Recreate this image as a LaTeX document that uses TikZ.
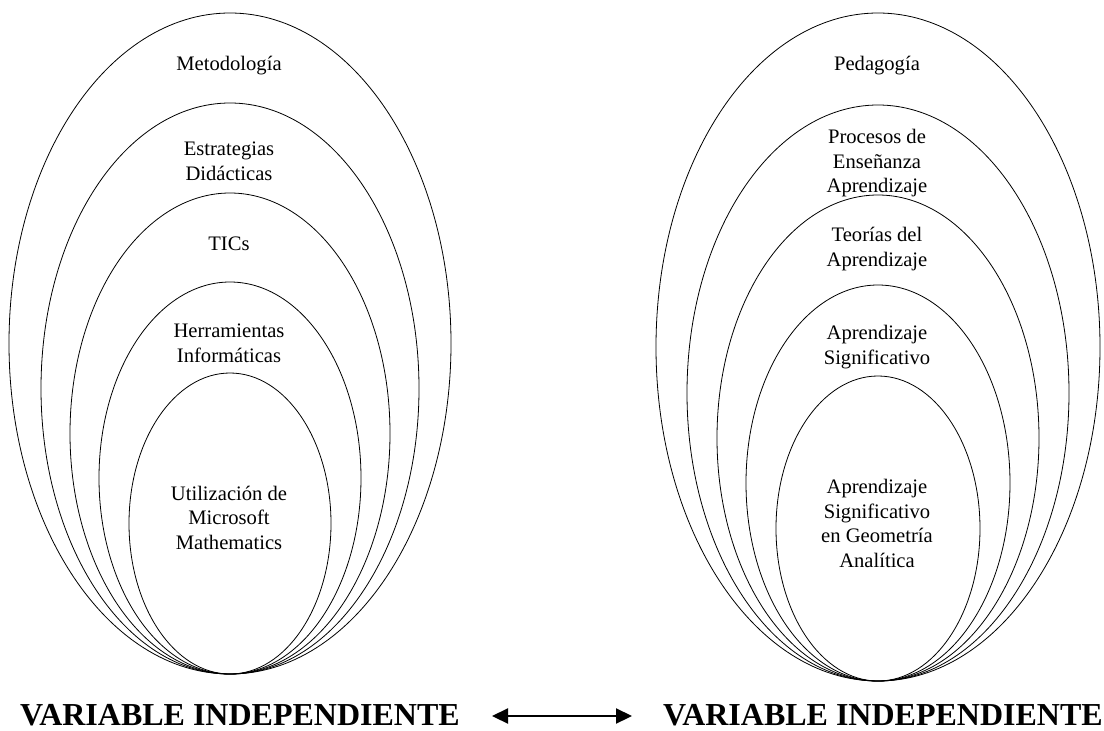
\documentclass[tikz,border=0pt]{standalone}
\usepackage{fontspec}
\setmainfont{Liberation Serif}
\usetikzlibrary{arrows.meta}
\begin{document}
\begin{tikzpicture}[x=1pt,y=-1pt,
  ring/.style={draw=black,line width=0.8pt},
  lbl/.style={align=center,inner sep=0pt,font=\fontsize{20.6}{24.5}\selectfont},
  big/.style={inner sep=0pt,font=\fontsize{32}{36}\selectfont\bfseries},
  arr/.style={line width=2.2pt,{Triangle[length=16pt,width=15pt]}-{Triangle[length=16pt,width=15pt]}}]
\useasboundingbox (0,0) rectangle (1104,731);
% left ellipses (bottom tangent at y=674)
\draw[ring] (230,343.5) ellipse [x radius=221, y radius=330.5];
\draw[ring] (230,388.5) ellipse [x radius=189, y radius=285.5];
\draw[ring] (230,433.5) ellipse [x radius=160, y radius=240.5];
\draw[ring] (230,478) ellipse [x radius=131, y radius=196];
\draw[ring] (230,523.5) ellipse [x radius=101, y radius=150.5];
% right ellipses (bottom tangent at y=681)
\draw[ring] (878,347) ellipse [x radius=222, y radius=334];
\draw[ring] (878,393) ellipse [x radius=191, y radius=288];
\draw[ring] (878,438) ellipse [x radius=161, y radius=243];
\draw[ring] (878,483) ellipse [x radius=132, y radius=198];
\draw[ring] (878,528.5) ellipse [x radius=102, y radius=152.5];
% left labels
\node[lbl] (l1) at (229,66) {Metodología};
\node[lbl] (l2) at (229,161.5) {Estrategias\\Didácticas};
\node[lbl] (l3) at (229,243.5) {TICs};
\node[lbl] (l4) at (229,343.5) {Herramientas\\Informáticas};
\node[lbl] (l5) at (229,517.5) {Utilización de\\Microsoft\\Mathematics};
% right labels
\node[lbl] (r1) at (877,66) {Pedagogía};
\node[lbl] (r2) at (877,163.5) {Procesos de\\Enseñanza\\Aprendizaje};
\node[lbl] (r3) at (877,249) {Teorías del\\Aprendizaje};
\node[lbl] (r4) at (877,347) {Aprendizaje\\Significativo};
\node[lbl] (r5) at (877,523.5) {Aprendizaje\\Significativo\\en Geometría\\Analítica};
% bottom labels
\node[big,anchor=base] (lv) at (240,725) {VARIABLE INDEPENDIENTE};
\node[big,anchor=base] (rv) at (883,725) {VARIABLE INDEPENDIENTE};
\coordinate (al) at (492,716);
\coordinate (ar) at (632,716);
\draw[arr] (al) -- (ar);
\end{tikzpicture}
\end{document}
